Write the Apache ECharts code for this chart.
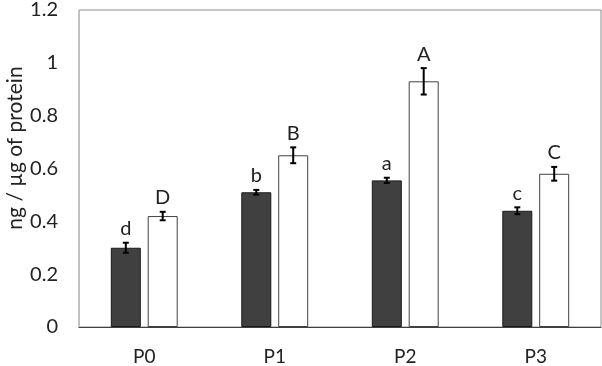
<!DOCTYPE html>
<html><head><meta charset="utf-8">
<script src="https://cdn.jsdelivr.net/npm/echarts@6/dist/echarts.min.js"></script>
<style>html,body{margin:0;padding:0;background:#fff}#c{width:602px;height:366px}</style>
</head><body><div id="c"></div>
<script>
const categories = ['P0', 'P1', 'P2', 'P3'];
const darkValues = [0.30, 0.51, 0.555, 0.44];
const darkErrors = [0.019, 0.009, 0.01, 0.013];
const darkLetters = ['d', 'b', 'a', 'c'];
const whiteValues = [0.42, 0.65, 0.93, 0.58];
const whiteErrors = [0.016, 0.03, 0.05, 0.026];
const whiteLetters = ['D', 'B', 'A', 'C'];
const yTicks = { min: 0, max: 1.2, interval: 0.2 };
const yName = 'ng / µg of protein';

const FONT = 'Lato';
const BW = 30, GAP_RATIO = 0.23;
const OFF = (BW + BW * GAP_RATIO) / 2;

function errSeries(values, errors, letters, sign) {
  const data = values.map((v, i) => [i, v, errors[i], letters[i]]);
  return {
    type: 'custom',
    z: 10,
    data: data,
    renderItem: function (params, api) {
      const i = api.value(0), v = api.value(1), e = api.value(2);
      const ptTop = api.coord([i, v + e]);
      const ptBot = api.coord([i, v - e]);
      const x = ptTop[0] + sign * OFF;
      const cap = 3;
      const st = { stroke: '#000', lineWidth: 2 };
      return {
        type: 'group',
        children: [
          { type: 'line', shape: { x1: x, y1: ptTop[1], x2: x, y2: ptBot[1] }, style: st },
          { type: 'line', shape: { x1: x - cap, y1: ptTop[1], x2: x + cap, y2: ptTop[1] }, style: st },
          { type: 'line', shape: { x1: x - cap, y1: ptBot[1], x2: x + cap, y2: ptBot[1] }, style: st },
          { type: 'text', x: x, y: ptTop[1] - 4,
            style: { text: letters[params.dataIndex], fontFamily: FONT, fontSize: 20, fill: '#222',
                     align: 'center', verticalAlign: 'bottom' } }
        ]
      };
    }
  };
}

const chart = echarts.init(document.getElementById('c'));
chart.setOption({
  animation: false,
  backgroundColor: '#fff',
  grid: { left: 79, right: 1, top: 9, bottom: 39, show: true, borderColor: '#8c8c8c', borderWidth: 1 },
  xAxis: {
    type: 'category', data: categories,
    axisTick: { show: false },
    axisLine: { lineStyle: { color: '#404040', width: 1 } },
    axisLabel: { margin: 20, fontFamily: FONT, fontSize: 19, color: '#222' }
  },
  yAxis: {
    type: 'value', min: yTicks.min, max: yTicks.max, interval: yTicks.interval,
    splitLine: { show: false },
    axisTick: { show: false },
    axisLine: { show: true, lineStyle: { color: '#bfbfbf', width: 1 } },
    axisLabel: { margin: 21, fontFamily: FONT, fontSize: 20, color: '#222' }
  },
  graphic: [{
    type: 'text', x: 15, y: 148, rotation: Math.PI / 2,
    style: { text: yName, fontFamily: FONT, fontSize: 21, fill: '#222', align: 'center', verticalAlign: 'middle' }
  }],
  series: [
    { type: 'bar', data: darkValues, barWidth: BW, barGap: (GAP_RATIO * 100) + '%',
      itemStyle: { color: '#404040', borderColor: '#1a1a1a', borderWidth: 1 } },
    { type: 'bar', data: whiteValues, barWidth: BW, barGap: (GAP_RATIO * 100) + '%',
      itemStyle: { color: '#ffffff', borderColor: '#404040', borderWidth: 1 } },
    errSeries(darkValues, darkErrors, darkLetters, -1),
    errSeries(whiteValues, whiteErrors, whiteLetters, 1)
  ]
});
</script></body></html>
